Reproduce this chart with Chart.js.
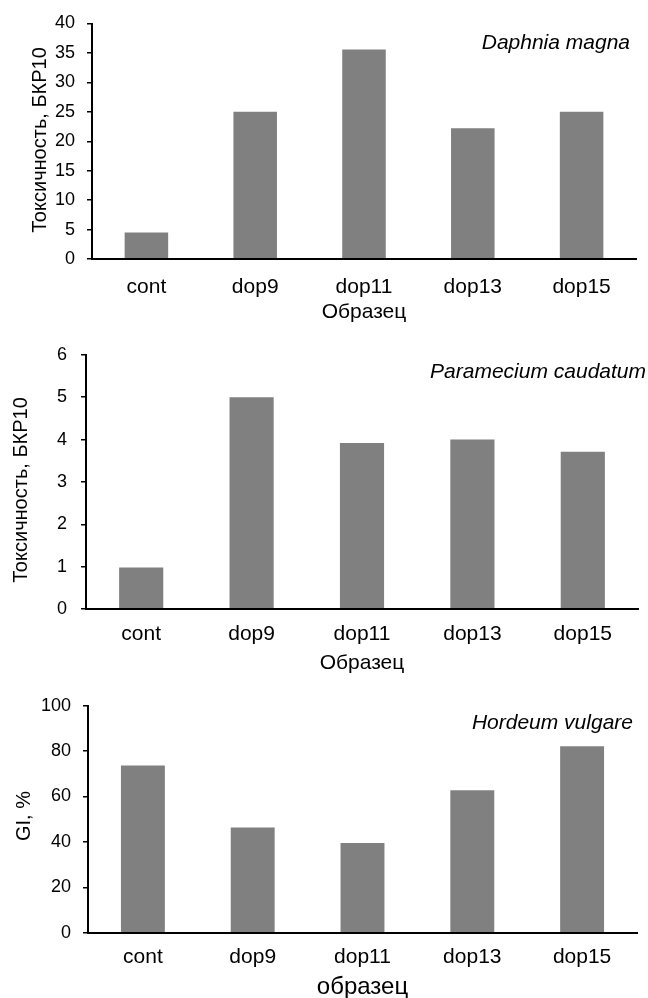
<!DOCTYPE html>
<html>
<head>
<meta charset="utf-8">
<script src="https://cdn.jsdelivr.net/npm/chart.js@4/dist/chart.umd.min.js"></script>
<style>
  html, body { margin: 0; padding: 0; background: #fff; }
  body { width: 648px; height: 998px; position: relative; overflow: hidden; }
  canvas { position: absolute; left: 0; }
</style>
</head>
<body>
<canvas id="c1" style="top:0px"></canvas>
<canvas id="c2" style="top:330px"></canvas>
<canvas id="c3" style="top:680px"></canvas>
<script>
// Samples shared by all three panels
const categories = ['cont', 'dop9', 'dop11', 'dop13', 'dop15'];

// Daphnia magna toxicity (БКР10)
const daphniaValues = [4.5, 25, 35.6, 22.2, 25];
const daphniaTicks = [0, 5, 10, 15, 20, 25, 30, 35, 40];

// Paramecium caudatum toxicity (БКР10)
const parameciumValues = [0.98, 5.0, 3.92, 4.0, 3.71];
const parameciumTicks = [0, 1, 2, 3, 4, 5, 6];

// Hordeum vulgare germination index, %
const hordeumValues = [73.7, 46.3, 39.5, 62.7, 82.1];
const hordeumTicks = [0, 20, 40, 60, 80, 100];

const FONT = "'Liberation Sans', Arial, sans-serif";
const BAR = '#808080';

// Italic species caption in the upper right corner and the rotated y title
const panelText = {
  id: 'panelText',
  afterDraw(chart, args, opts) {
    const ctx = chart.ctx;
    ctx.save();
    ctx.fillStyle = '#000';
    ctx.textBaseline = 'middle';
    ctx.font = 'italic ' + opts.speciesSize + 'px ' + FONT;
    ctx.textAlign = 'right';
    ctx.fillText(opts.species, opts.speciesX, opts.speciesY);
    ctx.translate(opts.yTitleX, opts.yTitleY);
    ctx.rotate(-Math.PI / 2);
    ctx.font = '20px ' + FONT;
    ctx.textAlign = 'center';
    ctx.fillText(opts.yTitle, 0, 0);
    ctx.restore();
  }
};

function makeChart(id, o) {
  const canvas = document.getElementById(id);
  canvas.width = 648;
  canvas.height = o.height;
  canvas.style.width = '648px';
  canvas.style.height = o.height + 'px';
  return new Chart(canvas, {
    type: 'bar',
    data: {
      labels: categories,
      datasets: [{
        data: o.values,
        backgroundColor: BAR,
        borderWidth: 0,
        barPercentage: 0.4,
        categoryPercentage: 1.0
      }]
    },
    options: {
      responsive: false,
      animation: false,
      devicePixelRatio: 1,
      layout: { padding: { top: o.top, right: o.right, bottom: o.bottom, left: 0 } },
      plugins: {
        legend: { display: false },
        tooltip: { enabled: false },
        panelText: o.text
      },
      scales: {
        x: {
          grid: { display: false, drawTicks: false },
          border: { display: true, color: '#000', width: 2, z: 1 },
          ticks: {
            color: '#000',
            font: { family: FONT, size: 21 },
            padding: o.xTickPad,
            maxRotation: 0
          },
          title: {
            display: true,
            text: o.xTitle,
            color: '#000',
            font: { family: FONT, size: o.xTitleSize },
            padding: { top: 0, bottom: 0 }
          },
          afterFit(scale) { scale.height = o.xHeight; }
        },
        y: {
          min: 0,
          max: o.ticks[o.ticks.length - 1],
          afterBuildTicks(scale) { scale.ticks = o.ticks.map(v => ({ value: v })); },
          grid: {
            drawOnChartArea: false,
            drawTicks: true,
            tickLength: 5,
            color: '#000',
            lineWidth: 1.5
          },
          border: { display: true, color: '#000', width: 2, z: 1 },
          ticks: {
            color: '#000',
            font: { family: FONT, size: 18 },
            padding: o.yTickPad
          },
          afterFit(scale) { scale.width = o.yWidth; }
        }
      }
    },
    plugins: [panelText]
  });
}

makeChart('c1', {
  height: 330, top: 23.5, right: 12, bottom: 5.4,
  values: daphniaValues, ticks: daphniaTicks,
  yWidth: 92, yTickPad: 12,
  xHeight: 65.6, xTickPad: 15.4, xTitle: 'Образец', xTitleSize: 21,
  text: { species: 'Daphnia magna', speciesX: 630, speciesY: 43, speciesSize: 21,
          yTitle: 'Токсичность, БКР10', yTitleX: 40, yTitleY: 140 }
});

makeChart('c2', {
  height: 350, top: 20.7, right: 10, bottom: 4.4,
  values: parameciumValues, ticks: parameciumTicks,
  yWidth: 86, yTickPad: 14,
  xHeight: 66.6, xTickPad: 12.4, xTitle: 'Образец', xTitleSize: 21,
  text: { species: 'Paramecium caudatum', speciesX: 646, speciesY: 42, speciesSize: 21,
          yTitle: 'Токсичность, БКР10', yTitleX: 21, yTitleY: 160 }
});

makeChart('c3', {
  height: 325, top: 25.7, right: 11, bottom: 3.6,
  values: hordeumValues, ticks: hordeumTicks,
  yWidth: 88, yTickPad: 12,
  xHeight: 68.7, xTickPad: 11.7, xTitle: 'образец', xTitleSize: 24,
  text: { species: 'Hordeum vulgare', speciesX: 633, speciesY: 43, speciesSize: 21,
          yTitle: 'GI, %', yTitleX: 24, yTitleY: 136 }
});
</script>
</body>
</html>
